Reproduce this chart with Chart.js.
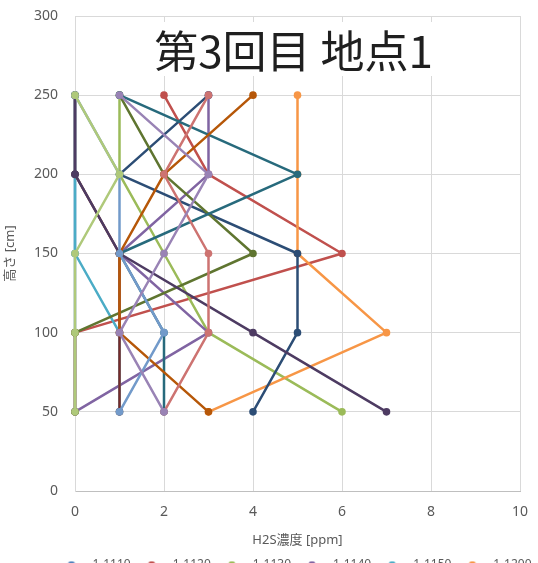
<!DOCTYPE html>
<html>
<head>
<meta charset="utf-8">
<script src="https://cdn.jsdelivr.net/npm/chart.js@4.4.0/dist/chart.umd.min.js"></script>
<style>
  html, body { margin: 0; padding: 0; background: #fff; overflow: hidden; width: 538px; height: 563px; }
  #wrap { position: relative; width: 538px; height: 617px; }
  #title { position: absolute; left: 71px; width: 445px; top: 22px; text-align: center; pointer-events: none; }
  #title span { display: inline-block; background: #fff; padding: 5px 8px; font: 44px/1 "Noto Sans CJK JP", sans-serif; color: #1f1f1f; }
</style>
</head>
<body>
<div id="wrap">
  <canvas id="c" width="538" height="617"></canvas>
  <div id="title"><span>第3回目 地点1</span></div>
</div>
<script>
// Measurement heights (cm), top to bottom
const heights = [250, 200, 150, 100, 50];

// H2S concentration (ppm) at each height, one array per measurement
const s1110 = [0, 0, 0, 0, 0];
const s1120 = [2, 3, 6, 0, 0];
const s1130 = [1, 1, 2, 3, 6];
const s1140 = [3, 3, 1, 3, 0];
const s1150 = [0, 0, 0, 1, 1];
const s1200 = [5, 5, 5, 7, 3];
const s1210 = [3, 1, 5, 5, 4];
const s1220 = [0, 0, 1, 1, 1];
const s1230 = [1, 2, 4, 0, 0];
const s1240 = [0, 0, 1, 4, 7];
const s1250 = [1, 5, 1, 2, 2];
const s1300 = [4, 2, 1, 1, 3];
const s1310 = [0, 1, 1, 2, 1];
const s1320 = [3, 2, 3, 3, 2];
const s1330 = [0, 1, 0, 0, 0];
const s1340 = [1, 3, 2, 1, 2];

const seriesNames = ['1-1110', '1-1120', '1-1130', '1-1140', '1-1150', '1-1200',
                     '1-1210', '1-1220', '1-1230', '1-1240', '1-1250', '1-1300',
                     '1-1310', '1-1320', '1-1330', '1-1340'];
const seriesValues = [s1110, s1120, s1130, s1140, s1150, s1200,
                      s1210, s1220, s1230, s1240, s1250, s1300,
                      s1310, s1320, s1330, s1340];

const xTicks = [0, 2, 4, 6, 8, 10];
const yTicks = [0, 50, 100, 150, 200, 250, 300];

// Office palette
const seriesColors = ['#4F81BD', '#C0504D', '#9BBB59', '#8064A2', '#4BACC6', '#F79646',
                      '#2C4D75', '#772C2A', '#5F7530', '#4D3B62', '#276A7C', '#B65708',
                      '#729ACA', '#CD7371', '#AFC97A', '#9983B5'];

const LINE_W = 2.5;
const POINT_R = 3.8;
const TEXT = '#595959';
const FONT = '"Noto Sans", "Noto Sans CJK JP", sans-serif';

// Legend symbol: short line with a marker in the middle
function legendSymbol(color) {
  const c = document.createElement('canvas');
  c.width = 30; c.height = 9;
  const g = c.getContext('2d');
  g.strokeStyle = color; g.lineWidth = LINE_W;
  g.beginPath(); g.moveTo(0, 4.5); g.lineTo(30, 4.5); g.stroke();
  g.fillStyle = color;
  g.beginPath(); g.arc(15, 4.5, POINT_R, 0, Math.PI * 2); g.fill();
  return c;
}
const legendSymbols = seriesColors.map(legendSymbol);

const datasets = seriesValues.map((vals, i) => ({
  label: seriesNames[i],
  data: vals.map((v, k) => ({ x: v, y: heights[k] })),
  showLine: true,
  borderColor: seriesColors[i],
  backgroundColor: seriesColors[i],
  pointBackgroundColor: seriesColors[i],
  pointBorderColor: seriesColors[i],
  borderWidth: LINE_W,
  borderJoinStyle: 'round',
  pointRadius: POINT_R,
  pointBorderWidth: 0,
  clip: 6,
  order: seriesValues.length - i   // later series drawn on top
}));

// Shift the legend rows so they sit under the plot area
const legendShift = {
  id: 'legendShift',
  afterLayout(chart) {
    const lg = chart.legend;
    if (lg) { lg.left += 34; lg.right += 34; }
  }
};

new Chart(document.getElementById('c'), {
  type: 'scatter',
  data: { datasets },
  plugins: [legendShift],
  options: {
    responsive: false,
    devicePixelRatio: 1,
    animation: false,
    layout: { padding: { top: 16, right: 18, left: 0, bottom: 0 } },
    plugins: {
      title: { display: false },
      tooltip: { enabled: false },
      legend: {
        position: 'bottom',
        labels: {
          usePointStyle: true,
          pointStyleWidth: 30,
          boxHeight: 9,
          padding: 6,
          color: TEXT,
          font: { family: FONT, size: 12 },
          generateLabels(chart) {
            const items = Chart.defaults.plugins.legend.labels.generateLabels(chart);
            items.sort((a, b) => a.datasetIndex - b.datasetIndex);
            items.forEach(it => { it.pointStyle = legendSymbols[it.datasetIndex]; });
            return items;
          }
        }
      }
    },
    scales: {
      x: {
        type: 'linear',
        min: 0, max: 10,
        afterBuildTicks(scale) { scale.ticks = xTicks.map(v => ({ value: v })); },
        afterFit(scale) { scale.height = 62; scale.paddingLeft = 0; scale.paddingRight = 0; },
        ticks: { color: TEXT, font: { family: FONT, size: 14 }, padding: 13 },
        grid: { color: '#d9d9d9', drawTicks: false, lineWidth: 1 },
        border: { color: '#bfbfbf' },
        title: { display: true, text: 'H2S濃度 [ppm]', color: TEXT,
                 font: { family: FONT, size: 13 }, padding: { top: 0, bottom: 5 } }
      },
      y: {
        type: 'linear',
        min: 0, max: 300,
        afterBuildTicks(scale) { scale.ticks = yTicks.map(v => ({ value: v })); },
        afterFit(scale) { scale.width = 75; scale.paddingTop = 0; scale.paddingBottom = 0; },
        ticks: { color: TEXT, font: { family: FONT, size: 14 }, padding: 17 },
        grid: { color: '#d9d9d9', drawTicks: false, lineWidth: 1 },
        border: { color: '#d9d9d9' },
        title: { display: true, text: '高さ [cm]', color: TEXT,
                 font: { family: FONT, size: 13 }, padding: { top: 2, bottom: 0 } }
      }
    }
  }
});
</script>
</body>
</html>
